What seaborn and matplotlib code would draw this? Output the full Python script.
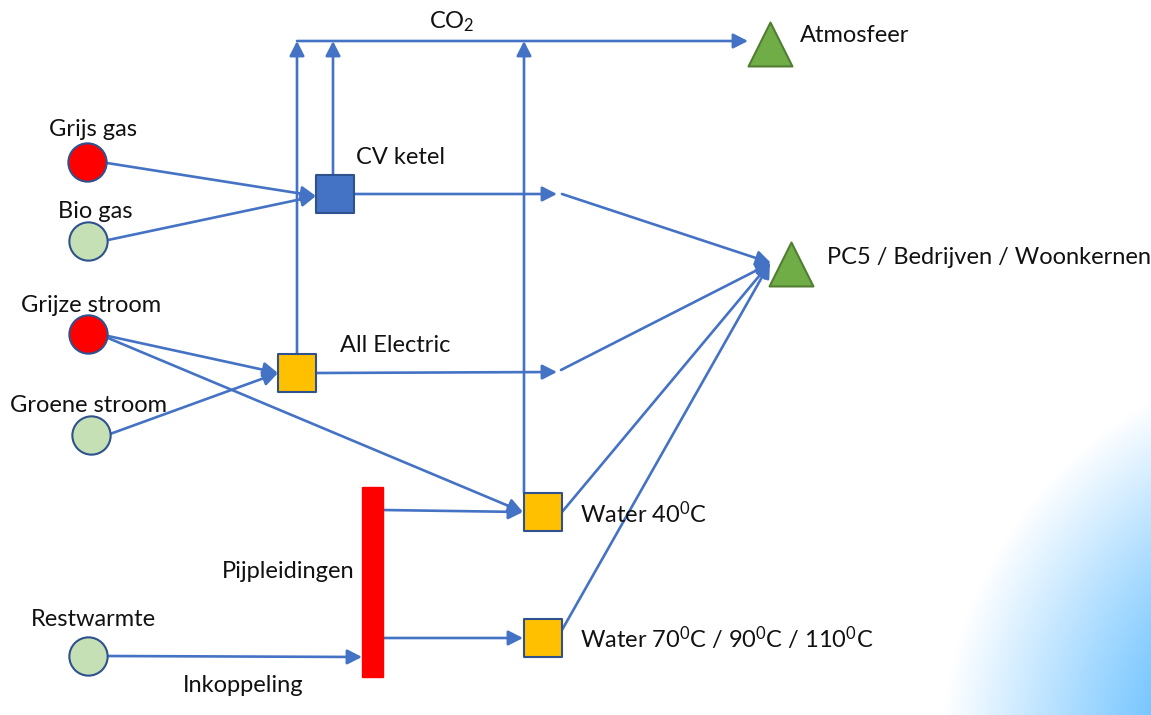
import numpy as np
import pandas as pd
import matplotlib.pyplot as plt
import seaborn as sns
from matplotlib.patches import Rectangle

sns.set_style("white")
plt.rcParams['font.family'] = ['Lato', 'DejaVu Sans']

BLUE = "#4472C4"

# nodes of the diagram (pixel coordinates, y down)
node_names = ["Grijs gas", "Bio gas", "Grijze stroom", "Groene stroom", "Restwarmte",
              "CV ketel", "All Electric", "Water 40", "Water 70",
              "Atmosfeer", "PC5"]
node_x = [87, 88, 88, 91, 88, 335, 297, 543, 543, 770, 791]
node_y = [162, 241, 334, 435, 656, 194, 373, 512, 638, 44, 264]
node_kind = ["grey_src", "green_src", "grey_src", "green_src", "green_src",
             "gas_unit", "elec_unit", "elec_unit", "elec_unit", "sink", "sink"]

# text labels
label_text = ["Grijs gas", "Bio gas", "Grijze stroom", "Groene stroom", "Restwarmte",
              "CV ketel", "All Electric", r"Water 40$\mathregular{^0}$C",
              r"Water 70$\mathregular{^0}$C / 90$\mathregular{^0}$C / 110$\mathregular{^0}$C",
              "Atmosfeer", "PC5 / Bedrijven / Woonkernen", "Pijpleidingen", "Inkoppeling",
              r"CO$\mathregular{_2}$"]
label_x = [93, 95, 91, 89, 93, 356, 340, 580, 580, 800, 827, 355, 243, 452]
label_y = [129, 212, 305, 405, 620, 157, 346, 514, 638, 36, 258, 572, 685, 22]
label_ha = ["center"] * 5 + ["left"] * 6 + ["right", "center", "center"]

# arrows: start and end points
arrow_x0 = [107, 108, 108, 108, 110, 383, 383, 107, 355, 317, 562, 561, 562, 562, 297, 333, 524, 297]
arrow_y0 = [163, 240, 336, 338, 434, 510, 638, 656, 194, 373, 194, 370, 512, 630, 355, 175, 493, 41]
arrow_x1 = [316, 316, 278, 523, 278, 523, 523, 362, 557, 557, 771, 771, 770, 770, 297, 333, 524, 748]
arrow_y1 = [196, 196, 373, 512, 373, 512, 638, 657, 194, 372, 263, 263, 263, 263, 41, 41, 41, 41]

nodes = pd.DataFrame({"name": node_names, "x": node_x, "y": node_y, "kind": node_kind})

fig = plt.figure(figsize=(11.51, 7.15), dpi=100)
ax = fig.add_axes([0, 0, 1, 1])

# soft blue glow in the bottom right corner
gx, gy = np.meshgrid(np.arange(1151), np.arange(715))
d = np.hypot(gx - 1350, gy - 757)
t = np.clip((409 - d) / 260, 0, 1)[..., None]
glow = (1 - t) * np.array([1.0, 1.0, 1.0]) + t * np.array([0.33, 0.72, 1.0])
ax.imshow(glow, extent=[0, 1151, 715, 0], zorder=0, aspect="auto")

for x0, y0, x1, y1 in zip(arrow_x0, arrow_y0, arrow_x1, arrow_y1):
    ax.annotate("", xy=(x1, y1), xytext=(x0, y0), zorder=2,
                arrowprops=dict(arrowstyle="-|>,head_length=0.55,head_width=0.28",
                                color=BLUE, lw=1.9, mutation_scale=16,
                                shrinkA=0, shrinkB=0))

styles = {
    "grey_src": dict(marker="o", s=760, color="#FF0000", edgecolor="#2F528F"),
    "green_src": dict(marker="o", s=760, color="#C5E0B4", edgecolor="#2F528F"),
    "gas_unit": dict(marker="s", s=780, color="#4472C4", edgecolor="#2F528F"),
    "elec_unit": dict(marker="s", s=780, color="#FFC000", edgecolor="#2F528F"),
    "sink": dict(marker="^", s=1000, color="#70AD47", edgecolor="#507E32"),
}
for kind, st in styles.items():
    sns.scatterplot(data=nodes[nodes["kind"] == kind], x="x", y="y", ax=ax,
                    linewidth=1.5, zorder=3, legend=False, **st)

ax.add_patch(Rectangle((362, 487), 21, 190, color="#FF0000", zorder=3))

for txt, x, y, ha in zip(label_text, label_x, label_y, label_ha):
    ax.text(x, y, txt, ha=ha, va="center", fontsize=17, color="#111111", zorder=4)

ax.set_xlim(0, 1151)
ax.set_ylim(715, 0)
ax.set_axis_off()
fig.savefig("out.png", dpi=100)
